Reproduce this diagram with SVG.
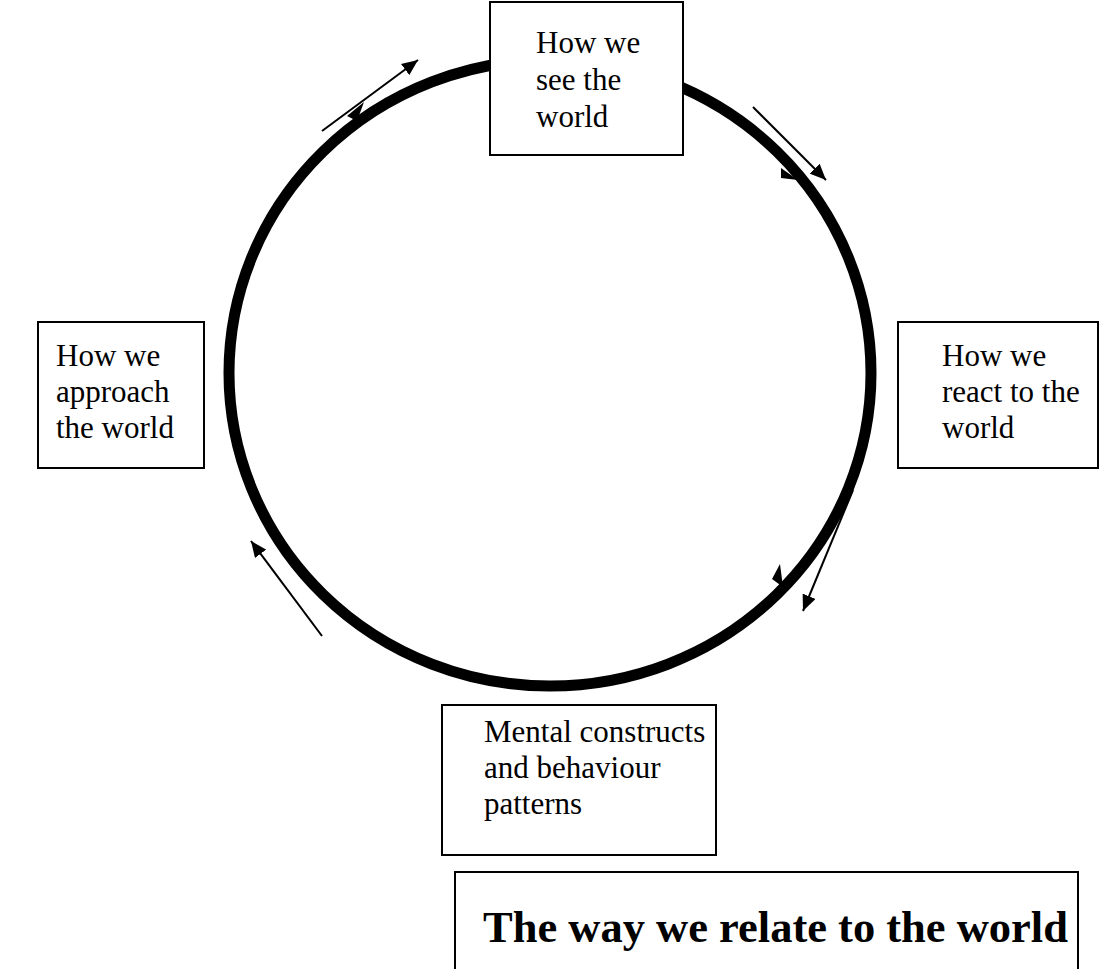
<svg xmlns="http://www.w3.org/2000/svg" width="1116" height="969" viewBox="0 0 1116 969">
<style>
.box{fill:#fff;stroke:#000;stroke-width:2}
.lbl{font-family:"Liberation Serif","Times New Roman",serif;font-size:31px;fill:#000}
.title{font-family:"Liberation Serif","Times New Roman",serif;font-size:44.5px;font-weight:bold;fill:#000}
.thin{stroke:#000;stroke-width:2;fill:none;marker-end:url(#ah)}
</style>
<defs>
<marker id="ah" markerUnits="userSpaceOnUse" markerWidth="18" markerHeight="14" refX="16" refY="7" orient="auto">
<path d="M0,0 L16,7 L0,14 Z" fill="#000"/>
</marker>
</defs>
<rect width="1116" height="969" fill="#fff"/>
<g id="cycle">
<ellipse cx="550" cy="373" rx="321" ry="313" fill="none" stroke="#000" stroke-width="11"/>
<path d="M347,116 L364,102 L357,121 Z" fill="#000"/>
<path d="M781,168 L798,180 L781,178 Z" fill="#000"/>
<path d="M780,564 L783,587 L772,579 Z" fill="#000"/>
</g>
<g id="connectors">
<line class="thin" x1="322" y1="131" x2="418" y2="60"/>
<line class="thin" x1="753" y1="107" x2="826" y2="180"/>
<line class="thin" x1="853" y1="490" x2="803" y2="611"/>
<line class="thin" x1="322" y1="636" x2="251" y2="541"/>
</g>
<g id="node-see">
<rect class="box" x="490" y="2" width="193" height="153"/>
<text class="lbl" x="536" y="53">How we</text>
<text class="lbl" x="536" y="90">see the</text>
<text class="lbl" x="536" y="127">world</text>
</g>
<g id="node-approach">
<rect class="box" x="38" y="322" width="166" height="146"/>
<text class="lbl" x="56" y="366">How we</text>
<text class="lbl" x="56" y="402">approach</text>
<text class="lbl" x="56" y="438">the world</text>
</g>
<g id="node-react">
<rect class="box" x="898" y="322" width="200" height="146"/>
<text class="lbl" x="942" y="366">How we</text>
<text class="lbl" x="942" y="402">react to the</text>
<text class="lbl" x="942" y="438">world</text>
</g>
<g id="node-mental">
<rect class="box" x="442" y="705" width="274" height="150"/>
<text class="lbl" x="484" y="742">Mental constructs</text>
<text class="lbl" x="484" y="778">and behaviour</text>
<text class="lbl" x="484" y="814">patterns</text>
</g>
<g id="node-title">
<path d="M455,980 L455,872 L1078,872 L1078,980" fill="#fff" stroke="#000" stroke-width="2"/>
<text class="title" x="483" y="942">The way we relate to the world</text>
</g>
</svg>
